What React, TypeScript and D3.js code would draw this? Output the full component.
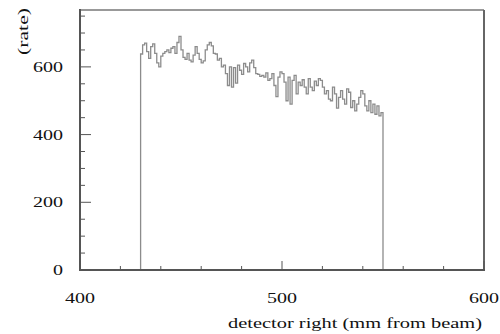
import React from "react";
import * as d3 from "d3";

const binStart = 430;
const binWidth = 1;
const rates: number[] = [
  638, 665, 670, 645, 625, 660, 668, 640, 612, 600,
  632, 640, 645, 650, 642, 655, 660, 640, 672, 690,
  650, 628, 622, 640, 620, 615, 635, 660, 640, 622,
  612, 618, 650, 665, 672, 662, 640, 638, 620, 625,
  600, 605, 580, 545, 600, 540, 598, 552, 605, 590,
  578, 610, 600, 585, 612, 620, 598, 580, 578, 572,
  575, 570, 582, 560, 565, 580, 545, 512, 570, 585,
  580, 555, 500, 570, 490, 560, 575, 520, 555, 545,
  562, 540, 520, 565, 540, 530, 558, 545, 565, 560,
  540, 520, 530, 505, 500, 540, 520, 478, 510, 530,
  505, 490, 535, 525, 480, 500, 470, 490, 510, 530,
  520, 485, 470, 500, 465, 490, 460, 485, 455, 465,
];
const xMajorTicks = [400, 500, 600];
const yMajorTicks = [0, 200, 400, 600];
const xTitle = "detector right  (mm from beam)";
const yTitle = "(rate)";

export default function App() {
  const W = 500, H = 334;
  const left = 80, right = 484, top = 10, bottom = 270;
  const x = d3.scaleLinear().domain([400, 600]).range([left, right]);
  const y = d3.scaleLinear().domain([0, 768]).range([bottom, top]);

  const pts: [number, number][] = [];
  pts.push([binStart, 0]);
  rates.forEach((v, i) => {
    pts.push([binStart + i * binWidth, v]);
    pts.push([binStart + (i + 1) * binWidth, v]);
  });
  pts.push([binStart + rates.length * binWidth, 0]);
  const line = d3.line<[number, number]>().x(d => x(d[0])).y(d => y(d[1]));

  const xMinor = d3.range(400, 601, 20).filter(v => !xMajorTicks.includes(v));
  const yMinor = d3.range(0, 768, 50).filter(v => !yMajorTicks.includes(v));
  const font = "'Liberation Serif', 'Nimbus Roman', Tinos, 'Times New Roman', Times, serif";

  return (
    <svg width={W} height={H} style={{ position: "absolute", left: 0, top: 0, background: "#fff" }}>
      <rect x={0} y={0} width={W} height={H} fill="#fff" />
      <line x1={left} x2={right} y1={top} y2={top} stroke="#999" strokeWidth={2} />
      <line x1={right} x2={right} y1={top} y2={bottom} stroke="#666" strokeWidth={2} />
      <path d={line(pts) || ""} fill="none" stroke="#8c8c8c" strokeWidth={1.3} />
      <line x1={left} x2={right + 1} y1={bottom} y2={bottom} stroke="#555" strokeWidth={2} />
      <line x1={left} x2={left} y1={top - 1} y2={bottom + 1} stroke="#555" strokeWidth={2} />
      {xMajorTicks.map(v => (
        <line key={"xm" + v} x1={x(v)} x2={x(v)} y1={bottom} y2={bottom - 9} stroke="#555" strokeWidth={1} />
      ))}
      {xMinor.map(v => (
        <line key={"xn" + v} x1={x(v)} x2={x(v)} y1={bottom} y2={bottom - 4} stroke="#555" strokeWidth={1} />
      ))}
      {yMajorTicks.map(v => (
        <line key={"ym" + v} x1={left} x2={left + 11} y1={y(v)} y2={y(v)} stroke="#555" strokeWidth={1} />
      ))}
      {yMinor.map(v => (
        <line key={"yn" + v} x1={left} x2={left + 5} y1={y(v)} y2={y(v)} stroke="#555" strokeWidth={1} />
      ))}
      {yMajorTicks.map(v => {
        const s = String(v);
        return (
          <text key={"yl" + v} x={63} y={y(v) + 5} textAnchor="end" style={{ fontFamily: font }} fontSize={15}
            fill="#111" textLength={s.length * 10} lengthAdjust="spacingAndGlyphs">{s}</text>
        );
      })}
      {xMajorTicks.map(v => {
        const s = String(v);
        return (
          <text key={"xl" + v} x={x(v)} y={303} textAnchor="middle" style={{ fontFamily: font }} fontSize={15}
            fill="#111" textLength={30} lengthAdjust="spacingAndGlyphs">{s}</text>
        );
      })}
      <text x={228} y={328} style={{ fontFamily: font }} fontSize={15} fill="#111"
        textLength={254} lengthAdjust="spacingAndGlyphs">{xTitle}</text>
      <text transform="translate(28,55) rotate(-90)" style={{ fontFamily: font }} fontSize={15} fill="#111"
        textLength={47} lengthAdjust="spacingAndGlyphs">{yTitle}</text>
    </svg>
  );
}
